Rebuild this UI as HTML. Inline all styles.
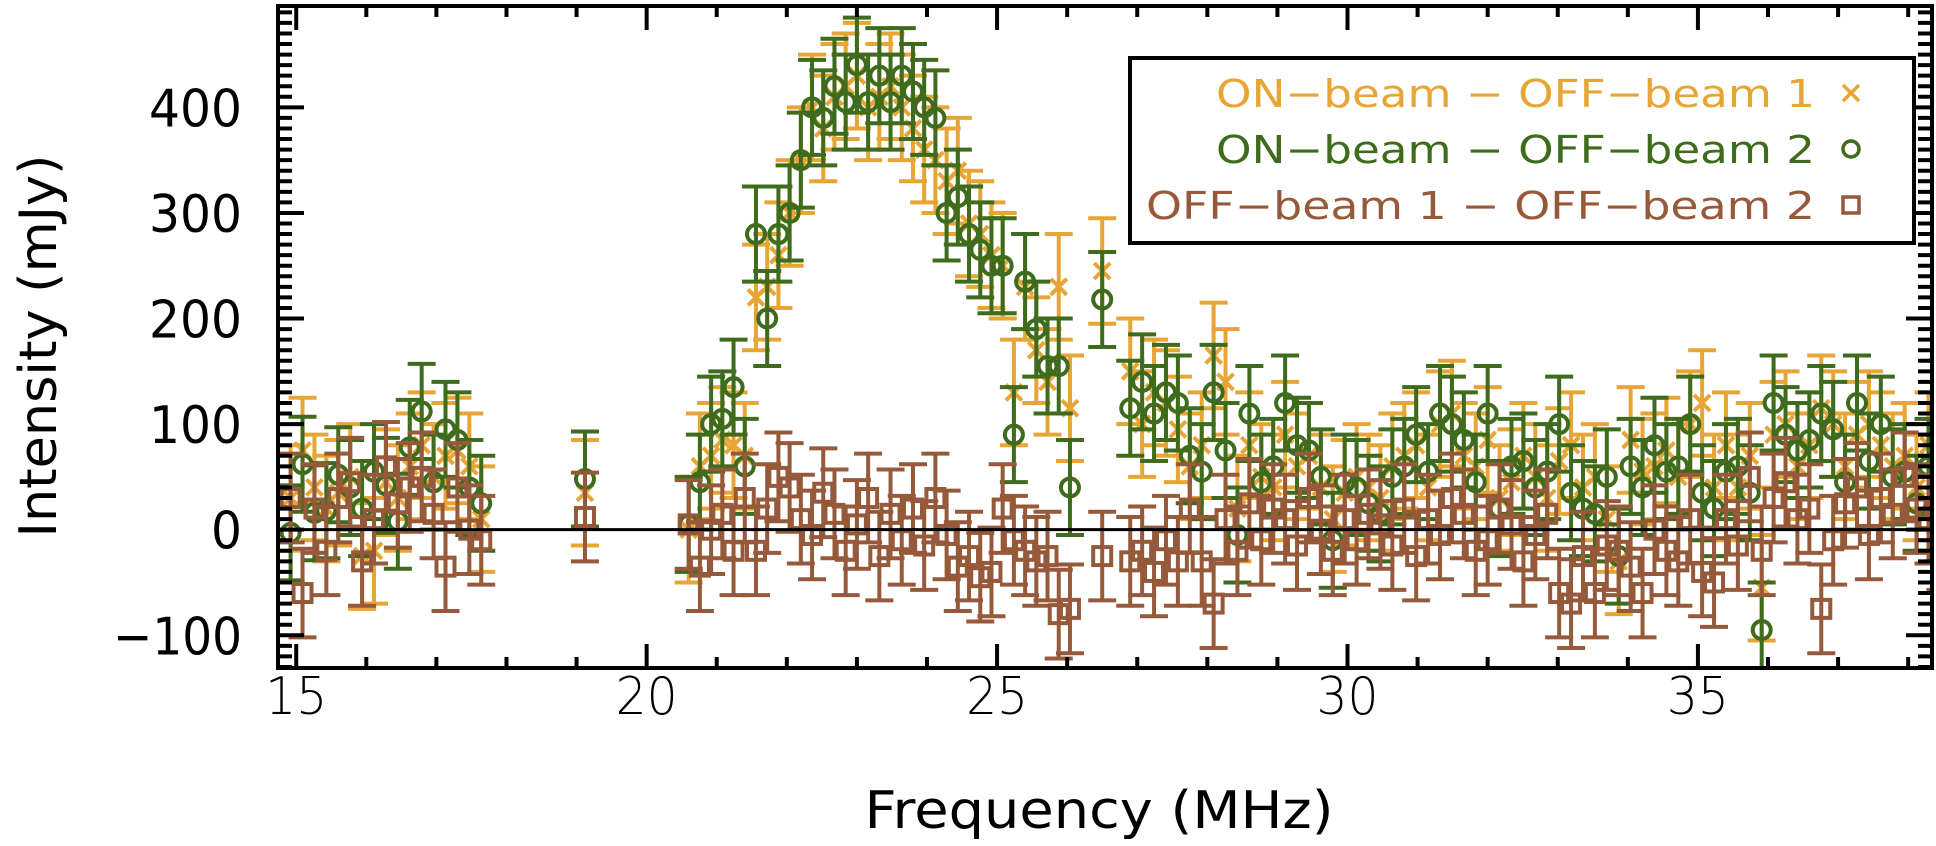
<!DOCTYPE html>
<html><head><meta charset="utf-8"><style>
html,body{margin:0;padding:0;background:#fff;}
svg text{font-family:"DejaVu Sans","Liberation Sans",sans-serif;}
</style></head><body>
<svg id="chart" width="1936" height="841" viewBox="0 0 1936 841" xmlns="http://www.w3.org/2000/svg">
<g id="marks"></g>
<g id="axes"></g>
</svg>
<script>
const freqA=[14.92,15.09,15.26,15.43,15.60,15.77,15.94,16.11,16.28,16.45,16.62,16.79,16.96,17.13,17.30,17.47,17.64,19.12];
const greenA=[-3,62,16,18,52,40,20,55,42,8,78,112,45,95,85,40,25,48];
const orangeA=[30,75,40,20,35,50,-25,-20,45,30,60,80,50,70,75,60,10,35];
const brownA=[30,-60,20,-20,30,45,-30,10,60,25,40,50,15,-35,40,0,-10,12];
const freqC=[20.60,20.76,20.92,21.08,21.24,21.40,21.56,21.72,21.88,22.04,22.20,22.36,22.52,22.68,22.84,23.00,23.16,23.32,23.48,23.64,23.80,23.96,24.12,24.28,24.44,24.60,24.76,24.92,25.08,25.24,25.40,25.56,25.72,25.88,26.04,26.50];
const greenC=[5,45,100,105,135,60,280,200,280,300,350,400,390,420,405,440,405,430,405,430,415,400,390,300,315,280,265,250,250,90,235,190,155,155,40,218];
const orangeC=[0,60,70,85,80,70,220,230,260,300,350,400,380,410,420,430,400,410,420,400,380,360,350,330,340,290,280,260,250,130,230,170,140,230,115,245];
const brownC=[5,-35,0,15,-20,30,-20,20,50,40,10,-5,35,15,-20,5,30,-25,15,-10,20,-15,30,-5,-35,-25,-45,-40,20,-10,-20,-30,-25,-80,-75,-25];
const freqD=[26.90,27.07,27.24,27.41,27.58,27.75,27.92,28.09,28.26,28.43,28.60,28.77,28.94,29.11,29.28,29.45,29.62,29.79,29.96,30.13,30.30,30.47,30.64,30.81,30.98,31.15,31.32,31.49,31.66,31.83,32.00,32.17,32.34,32.51,32.68,32.85,33.02,33.19,33.36,33.53,33.70,33.87,34.04,34.21,34.38,34.55,34.72,34.89,35.06,35.23,35.40,35.57,35.74,35.91,36.08,36.25,36.42,36.59,36.76,36.93,37.10,37.27,37.44,37.61,37.78,37.95,38.12,38.29,38.46];
const greenD=[115,140,110,130,120,70,55,130,75,-5,110,45,60,120,80,75,50,-10,45,40,25,15,50,60,90,55,110,100,85,45,110,20,60,65,40,55,100,35,20,15,50,-25,60,40,80,55,60,100,35,20,55,60,35,-95,120,90,75,85,110,95,45,120,65,100,50,55,25,60,115];
const orangeD=[150,100,130,120,95,60,80,165,140,20,80,50,40,90,60,70,40,10,35,50,40,30,60,70,80,40,100,110,70,60,85,30,45,70,50,30,65,80,40,50,10,-30,85,55,60,75,50,100,120,40,80,40,70,-55,90,100,60,80,115,100,60,90,100,80,60,70,40,80,90];
const brownD=[-30,-20,-40,-10,-30,20,-30,-70,10,-20,25,-10,20,10,-15,30,0,-20,10,-10,15,5,-15,20,-25,10,-5,30,15,-20,-10,20,5,-30,-5,15,-60,-70,-25,-60,-15,-20,-35,-60,0,-20,-30,10,-40,-50,10,-15,50,-20,30,45,10,20,-75,-10,25,40,-5,30,15,50,20,10,-15];
const xTicks=[15,20,25,30,35];
const yTicks=[-100,0,100,200,300,400];
const errOrange=50, errGreen=45, errBrown=42;

const L=278,R=1932,T=6,B=668;
const xMin=14.74,xMax=38.34,yMin=-131,yMax=496;
function X(f){return L+(f-xMin)/(xMax-xMin)*(R-L);}
function Y(v){return B-(v-yMin)/(yMax-yMin)*(B-T);}
const NS='http://www.w3.org/2000/svg';
function mk(tag,attrs,parent){const e=document.createElementNS(NS,tag);for(const k in attrs)e.setAttribute(k,attrs[k]);parent.appendChild(e);return e;}
const marks=document.getElementById('marks'), axes=document.getElementById('axes');
const clip=mk('clipPath',{id:'pc'},marks);mk('rect',{x:L,y:T,width:R-L,height:B-T},clip);
const mg=mk('g',{'clip-path':'url(#pc)'},marks);

const freqs=freqA.concat(freqC,freqD);
const series=[
 {name:'orange',vals:orangeA.concat(orangeC,orangeD),err:errOrange,col:'#E7A535',sym:'x'},
 {name:'green',vals:greenA.concat(greenC,greenD),err:errGreen,col:'#3E6B1C',sym:'o'},
 {name:'brown',vals:brownA.concat(brownC,brownD),err:errBrown,col:'#96593A',sym:'s'}
];
series.forEach(s=>{
 const g=mk('g',{stroke:s.col,'stroke-width':4,fill:'none'},mg);
 
 
 freqs.forEach((f,i)=>{
  const v=s.vals[i]; if(v===undefined)return;
  const x=X(f),y=Y(v),y1=Y(v+s.err),y2=Y(v-s.err);
  const eb=mk('path',{d:`M${x},${y1}V${y2}M${x-14},${y1}H${x+14}M${x-14},${y2}H${x+14}`},g);
  
  
  let m;
  if(s.sym==='o') m=mk('circle',{cx:x,cy:y,r:9,fill:'none'},g);
  else if(s.sym==='s') m=mk('rect',{x:x-9,y:y-9,width:18,height:18},g);
  else m=mk('path',{d:`M${x-8},${y-8}L${x+8},${y+8}M${x-8},${y+8}L${x+8},${y-8}`},g);
  
  
 });
});
const zl=mk('line',{x1:L,x2:R,y1:Y(0),y2:Y(0),stroke:'#000','stroke-width':3},marks);



const fr=mk('rect',{x:L,y:T,width:R-L,height:B-T,fill:'none',stroke:'#000','stroke-width':4},axes);


let d='';
for(let f=15;f<=38;f++){const x=X(f);const len=(f%5===0)?24:11;d+=`M${x},${B}V${B-len}M${x},${T}V${T+len}`;}
for(let v=-130;v<=490;v+=10){const y=Y(v);const len=(v%100===0)?26:14;d+=`M${L},${y}H${L+len}M${R},${y}H${R-len}`;}
const tk=mk('path',{d:d,stroke:'#000','stroke-width':4},axes);


xTicks.forEach(t=>{const s=String(t);const e=mk('text',{x:X(t),y:714,'font-size':52,'font-weight':300,'text-anchor':'middle',textLength:s.length*31,lengthAdjust:'spacingAndGlyphs'},axes);e.textContent=s;
 
 });
yTicks.forEach(t=>{const s=(t<0?'\u2212'+(-t):String(t));const e=mk('text',{x:242,y:Y(t)+19,'font-size':52,'text-anchor':'end',textLength:(t<0?3*31+36:s.length*31),lengthAdjust:'spacingAndGlyphs'},axes);e.textContent=s;
 
 });
const xt=mk('text',{x:1099,y:828,'font-size':52,'text-anchor':'middle',textLength:469,lengthAdjust:'spacingAndGlyphs'},axes);xt.textContent='Frequency (MHz)';


const yt=mk('text',{x:0,y:0,'font-size':52,'text-anchor':'middle',textLength:383,lengthAdjust:'spacingAndGlyphs',transform:'translate(56,346) rotate(-90)'},axes);yt.textContent='Intensity (mJy)';



const lg=mk('g',{},axes);


mk('rect',{x:1130,y:58,width:784,height:185,fill:'#fff',stroke:'#000','stroke-width':4},lg);
const labels=['ON\u2212beam \u2212 OFF\u2212beam 1','ON\u2212beam \u2212 OFF\u2212beam 2','OFF\u2212beam 1 \u2212 OFF\u2212beam 2'];
const lw=[599,599,669];
const ly=[93,149,205];
series.forEach((s,i)=>{
 const t=mk('text',{x:1815,y:ly[i]+14,'font-size':38,'text-anchor':'end',fill:s.col,textLength:lw[i],lengthAdjust:'spacingAndGlyphs'},lg);t.textContent=labels[i];
 
 
 const x=1851,y=ly[i];let m;
 if(s.sym==='o') m=mk('circle',{cx:x,cy:y,r:8,fill:'none',stroke:s.col,'stroke-width':3.5},lg);
 else if(s.sym==='s') m=mk('rect',{x:x-8,y:y-8,width:16,height:16,fill:'none',stroke:s.col,'stroke-width':3.5},lg);
 else m=mk('path',{d:`M${x-8},${y-8}L${x+8},${y+8}M${x-8},${y+8}L${x+8},${y-8}`,stroke:s.col,'stroke-width':3.5},lg);
 
 
});
</script>
</body></html>
